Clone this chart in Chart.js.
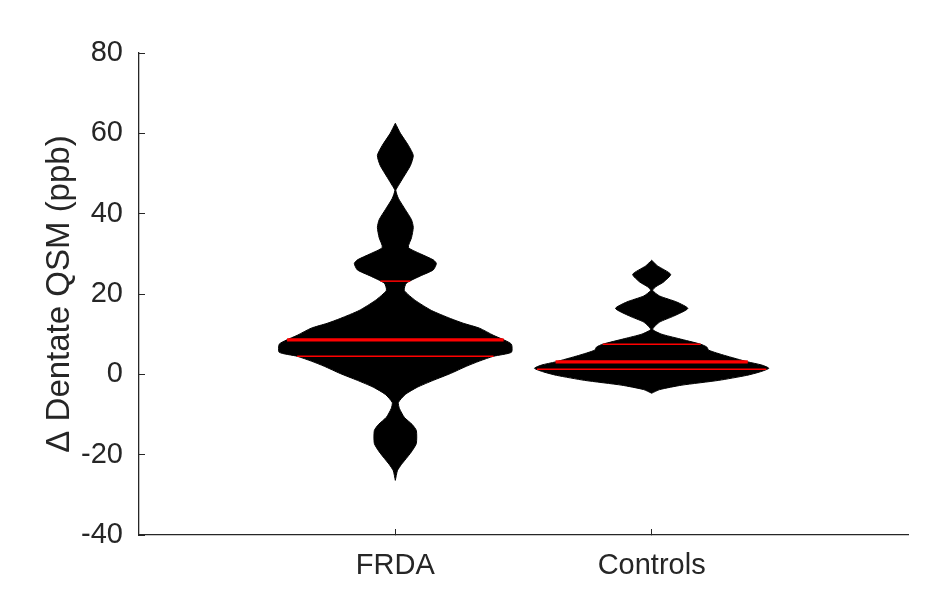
<!DOCTYPE html>
<html>
<head>
<meta charset="utf-8">
<script src="https://cdn.jsdelivr.net/npm/chart.js@4/dist/chart.umd.min.js"></script>
<style>
  body { margin: 0; background: #fff; }
  canvas { display: block; }
</style>
</head>
<body>
<canvas id="violinChart" width="940" height="615"></canvas>
<script>
// Violin profiles: y value and half width (x units)
const categories = ['FRDA', 'Controls'];

const frdaY = [-26.4, -24, -22.5, -20.6, -19, -17.2, -14, -12.5, -10.7, -8.5, -7, -5, -3.2, -1.5, 0.2, 2.0, 3.3, 4.5, 5.5, 7.5,
    8.5, 9.7, 11.5, 12.7, 13.9, 15.9, 18.4, 20.9, 22.7, 24.5, 26, 27.6, 28.5, 30, 31.6, 34, 36.6, 38.5, 41, 43.8,
    45.8, 47, 49, 52, 54.5, 57, 60, 62.5];
const frdaWidth = [0, 0.008, 0.023, 0.047, 0.066, 0.082, 0.082, 0.066, 0.035, 0.016, 0.012, 0.039, 0.086, 0.148, 0.215, 0.277, 0.328, 0.383, 0.453, 0.453,
    0.426, 0.383, 0.328, 0.266, 0.215, 0.141, 0.078, 0.035, 0.043, 0.098, 0.148, 0.160, 0.148, 0.098, 0.051, 0.063, 0.070, 0.063, 0.039, 0.012,
    0.002, 0.012, 0.031, 0.059, 0.070, 0.051, 0.020, 0];

const controlsY = [-4.7, -3.8, -2.7, -1.5, -0.25, 0.6, 1.5, 2.3, 3.1, 4.7, 6.0, 6.8, 7.5, 8.9, 10, 11.2, 13, 14.5, 16.4, 18,
    19.5, 20.9, 21.8, 23, 24.9, 27, 28.4];
const controlsWidth = [0, 0.031, 0.117, 0.262, 0.371, 0.422, 0.457, 0.430, 0.375, 0.285, 0.223, 0.215, 0.191, 0.105, 0.039, 0.004, 0.031, 0.086, 0.141, 0.098,
    0.031, 0.004, 0.016, 0.047, 0.074, 0.023, 0];

// red lines: median (thick) and quartiles (thin)
const medians = [8.6, 3.1];
const q1 = [4.5, 1.25];
const q3 = [23.2, 7.5];

const profiles = [
    { y: frdaY, w: frdaWidth },
    { y: controlsY, w: controlsWidth }
];

const textColor = '#262626';
const fontFamily = '"Liberation Sans", Arial, Helvetica, sans-serif';

function widthAt(p, v) {
    for (let i = 0; i < p.y.length - 1; i++) {
        if (v >= p.y[i] && v <= p.y[i + 1]) {
            const t = (v - p.y[i]) / (p.y[i + 1] - p.y[i]);
            return p.w[i] + t * (p.w[i + 1] - p.w[i]);
        }
    }
    return 0;
}

const datasets = [];

profiles.forEach(function(p, i) {
    const c = i + 1;
    const pts = [];
    for (let k = 0; k < p.y.length; k++) pts.push({ x: c + p.w[k], y: p.y[k] });
    for (let k = p.y.length - 1; k >= 0; k--) pts.push({ x: c - p.w[k], y: p.y[k] });
    datasets.push({
        data: pts,
        showLine: true,
        borderColor: '#000',
        borderWidth: 1,
        backgroundColor: '#000',
        fill: 'shape',
        tension: 0.2,
        pointRadius: 0,
        order: 2
    });

    [[medians[i], 3.2], [q1[i], 1.5], [q3[i], 1.5]].forEach(function(s) {
        const hw = widthAt(p, s[0]);
        datasets.push({
            data: [{ x: c - hw, y: s[0] }, { x: c + hw, y: s[0] }],
            showLine: true,
            borderColor: '#ff0000',
            borderWidth: s[1],
            pointRadius: 0,
            fill: false,
            order: 1
        });
    });
});

new Chart(document.getElementById('violinChart').getContext('2d'), {
    type: 'scatter',
    data: { datasets: datasets },
    options: {
        responsive: false,
        animation: false,
        events: [],
        layout: { padding: { left: 0, top: 53, right: 32, bottom: 0 } },
        plugins: { legend: { display: false }, tooltip: { enabled: false } },
        scales: {
            x: {
                type: 'linear',
                min: 0,
                max: 3,
                afterBuildTicks: function(scale) {
                    scale.ticks = categories.map(function(_, i) { return { value: i + 1 }; });
                },
                afterFit: function(scale) { scale.height = 80; },
                ticks: {
                    color: textColor,
                    font: { family: fontFamily, size: 29 },
                    padding: 20,
                    maxRotation: 0,
                    callback: function(v) { return categories[v - 1]; }
                },
                grid: { drawOnChartArea: false, drawTicks: true, tickLength: -6, color: textColor, lineWidth: 1 },
                border: { display: true, color: textColor, width: 1.3 }
            },
            y: {
                min: -40,
                max: 80,
                afterFit: function(scale) { scale.width = 139; },
                ticks: {
                    stepSize: 20,
                    color: textColor,
                    font: { family: fontFamily, size: 29 },
                    padding: 22
                },
                grid: { drawOnChartArea: false, drawTicks: true, tickLength: -6, color: textColor, lineWidth: 1 },
                border: { display: true, color: textColor, width: 1.3 },
                title: {
                    display: true,
                    text: '\u0394 Dentate QSM (ppb)',
                    color: textColor,
                    font: { family: fontFamily, size: 33 },
                    padding: { top: 40, bottom: 0 }
                }
            }
        }
    }
});
</script>
</body>
</html>
